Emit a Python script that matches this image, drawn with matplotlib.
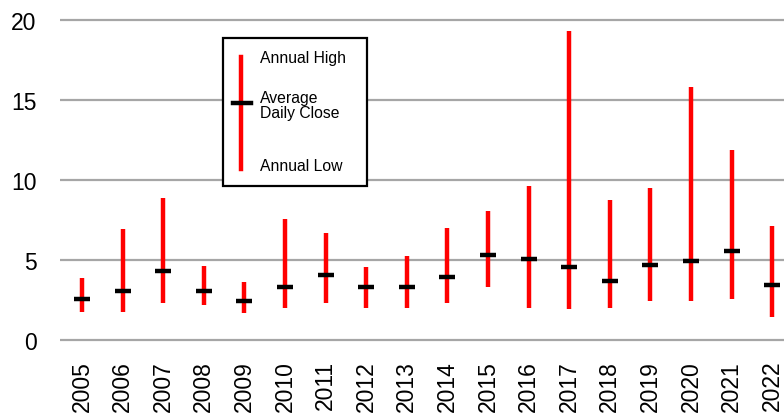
import matplotlib
matplotlib.use("Agg")
import matplotlib.pyplot as plt
import numpy as np

years = ["2005", "2006", "2007", "2008", "2009", "2010", "2011", "2012", "2013",
         "2014", "2015", "2016", "2017", "2018", "2019", "2020", "2021", "2022"]
annual_high = [3.9, 6.92, 8.9, 4.65, 3.65, 7.54, 6.67, 4.54, 5.27,
               7.02, 8.04, 9.65, 19.29, 8.77, 9.52, 15.79, 11.9, 7.15]
annual_low = [1.77, 1.77, 2.31, 2.19, 1.69, 2.02, 2.31, 2.02, 2.02,
              2.29, 3.29, 2.02, 1.92, 2.02, 2.42, 2.42, 2.54, 1.42]
avg_close = [2.54, 3.04, 4.29, 3.04, 2.42, 3.29, 4.04, 3.29, 3.29,
             3.92, 5.29, 5.04, 4.54, 3.67, 4.67, 4.92, 5.54, 3.42]
yticks = [0, 5, 10, 15, 20]

plt.rcParams['font.family'] = ['Liberation Sans', 'DejaVu Sans']

fig = plt.figure(figsize=(7.84, 4.14), dpi=100)
W, H = 784, 414
ax = fig.add_axes([60 / W, 0.1686, 1 - 60 / W, 0.7884])

x = np.arange(len(years))
ax.vlines(x, annual_low, annual_high, colors="#ff0000", linewidth=3.2, zorder=3)
ax.plot(x, avg_close, linestyle="none", marker="_", markersize=12,
        markeredgewidth=3.2, color="black", zorder=4)

ax.set_ylim(-0.2, 20.2)
ax.set_xlim(-0.54, 17.29)
ax.set_yticks(yticks)
ax.set_yticklabels([str(v) for v in yticks], fontsize=16.5)
ax.set_xticks(x)
ax.set_xticklabels(years, rotation=90, fontsize=16.5)
ax.tick_params(axis="both", length=0)
ax.tick_params(axis="y", pad=17)
ax.tick_params(axis="x", pad=12)
ax.grid(axis="y", color="#a6a6a6", linewidth=1.6)
ax.set_axisbelow(True)
for s in ax.spines.values():
    s.set_visible(False)

# custom legend box
def fx(px):
    return px / W
def fy(py):
    return 1 - py / H

rect = plt.Rectangle((fx(223), fy(187)), fx(367) - fx(223), fy(39) - fy(187),
                     transform=fig.transFigure, facecolor="white",
                     edgecolor="black", linewidth=1.6, zorder=10)
fig.add_artist(rect)
fig.add_artist(plt.Line2D([fx(241), fx(241)], [fy(58), fy(170)],
                          transform=fig.transFigure, color="#ff0000",
                          linewidth=3.2, zorder=11))
fig.add_artist(plt.Line2D([fx(233), fx(251)], [fy(104), fy(104)],
                          transform=fig.transFigure, color="black",
                          linewidth=3.2, zorder=12))
fig.text(fx(260), fy(59), "Annual High", fontsize=11.3, va="center", ha="left", zorder=13)
fig.text(fx(260), fy(106), "Average\nDaily Close", fontsize=11.3, va="center", ha="left",
         linespacing=1.05, zorder=13)
fig.text(fx(260), fy(167), "Annual Low", fontsize=11.3, va="center", ha="left", zorder=13)

fig.savefig("out.png", dpi=100)
